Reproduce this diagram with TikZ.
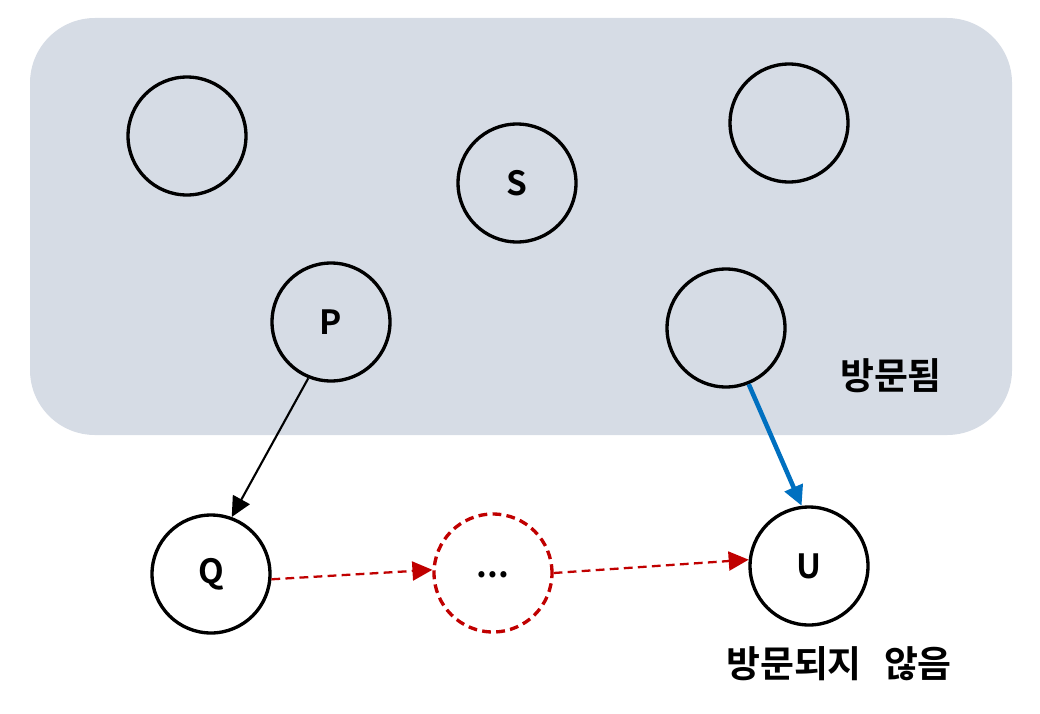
\documentclass[tikz,border=0pt]{standalone}
\usepackage{fontspec}
\setmainfont{Noto Sans CJK KR}[BoldFont={Noto Sans CJK KR Bold}]
\usetikzlibrary{arrows.meta}
\definecolor{visitfill}{HTML}{D6DCE5}
\definecolor{pathred}{HTML}{C00000}
\definecolor{edgeblue}{HTML}{0070C0}

\begin{document}
\begin{tikzpicture}[x=0.02cm,y=-0.02cm,
    vertex/.style={circle,draw,line width=1.9pt,minimum size=2.36cm,inner sep=0pt,font=\fontsize{19}{19}\selectfont\bfseries},
    hidden/.style={vertex,draw=pathred,dash pattern=on 5pt off 3pt},
    label/.style={font=\fontsize{21}{21}\selectfont\bfseries},
    tip/.style={-{Triangle[length=0.4cm,width=0.38cm]}}]
                    \useasboundingbox (0,0) rectangle (1040,713);
                    \fill[visitfill,rounded corners=1.3cm] (30,18) rectangle (1012,435);
                    \draw (187,136) node[vertex,name=A] {};
                    \draw (517,183) node[vertex,name=S] {S};
                    \draw (789,123) node[vertex,name=B] {};
                    \draw (331,322) node[vertex,name=P] {P};
                    \draw (726,328) node[vertex,name=C] {};
                    \draw (211,574) node[vertex,name=Q] {Q};
                    \draw (493,573) node[hidden,name=D] {\raisebox{-0.5ex}{...}};
                    \draw (809,566) node[vertex,name=U] {U};
                    \draw (891,376) node[label,name=visited] {방문됨};
                    \draw (839,664) node[label,name=unvisited] {방문되지\hspace{0.6em}않음};
                    \draw[tip, line width=1.2pt] (P.-112) -- (Q.70);
                    \draw[tip, line width=2.6pt, edgeblue] (C.-68) -- (U.97);
                    \draw[tip, line width=1.3pt, pathred, dash pattern=on 5pt off 3pt] (Q.-5) -- (D.177);
                    \draw[tip, line width=1.3pt, pathred, dash pattern=on 5pt off 3pt] (D.0) -- (U.174);
                \end{tikzpicture}
\end{document}
